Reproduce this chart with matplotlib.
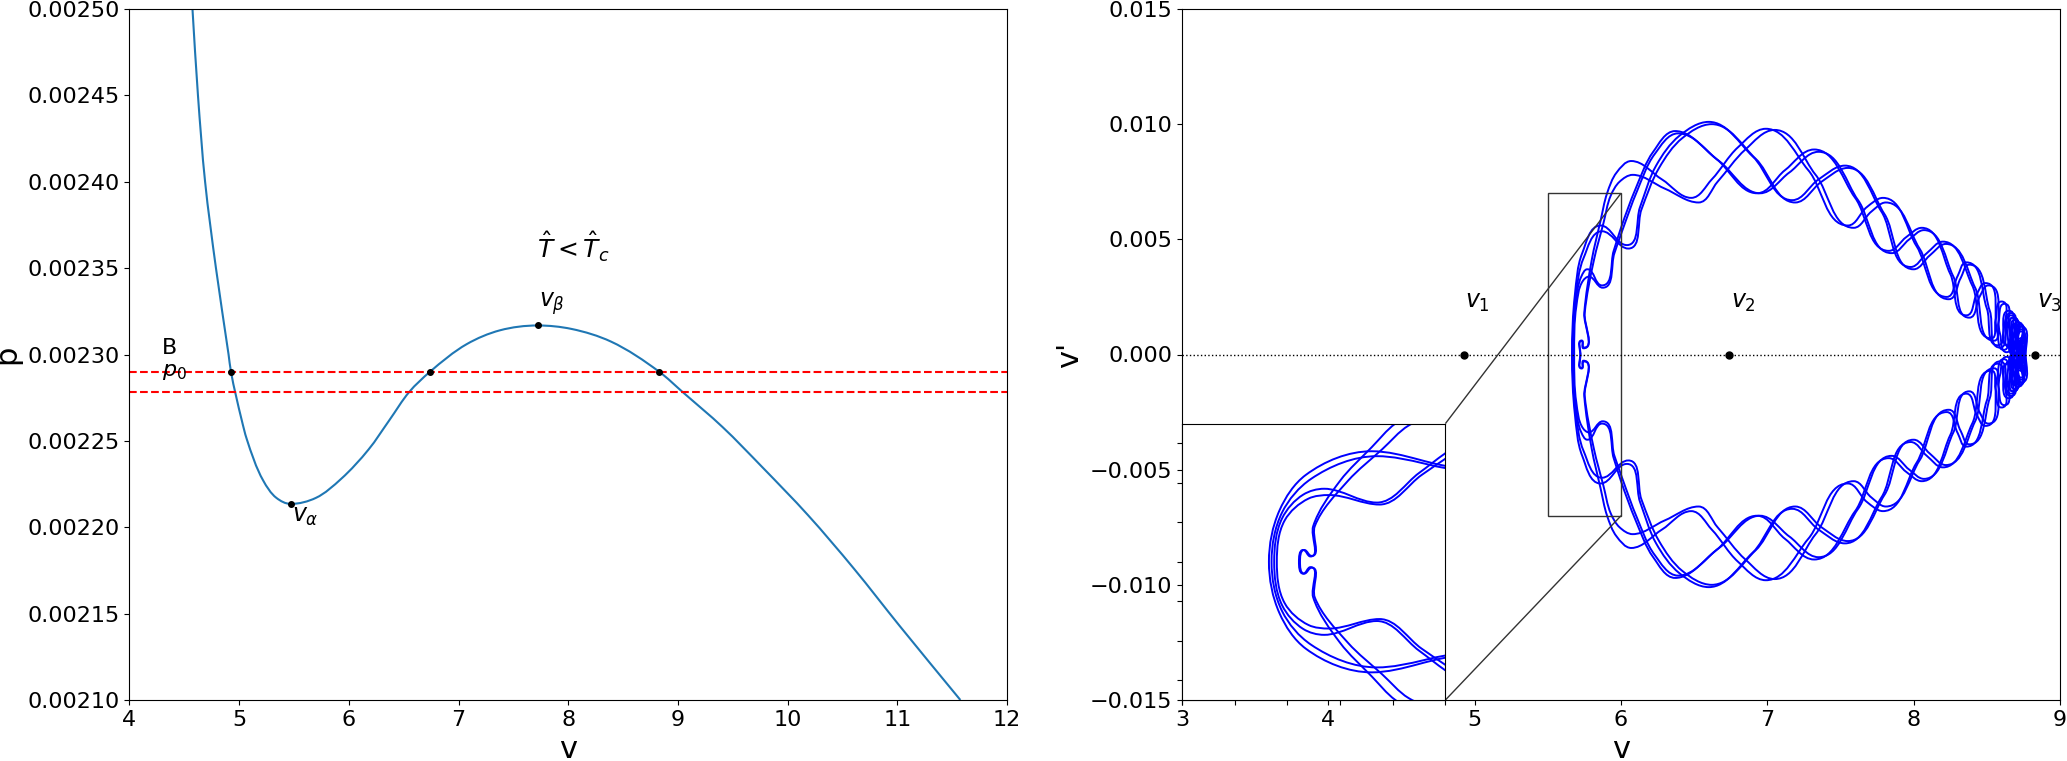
import numpy as np
import matplotlib
matplotlib.use('Agg')
import matplotlib.pyplot as plt
from matplotlib.path import Path
from matplotlib.patches import PathPatch
from matplotlib.ticker import FormatStrFormatter
from mpl_toolkits.axes_grid1.inset_locator import mark_inset

# isotherm p(v)
iso_v = [4.575, 4.625, 4.690, 4.789, 4.904, 4.926, 5.024, 5.070, 5.220, 5.340,
         5.470, 5.700, 5.930, 6.180, 6.370, 6.552, 6.740, 7.075, 7.378, 7.722,
         8.030, 8.389, 8.830, 9.048, 9.407, 9.766, 10.186, 10.605, 11.020, 11.575]
iso_p = [0.002500, 0.002450, 0.002400, 0.002350, 0.002300, 0.002290, 0.002262, 0.002251, 0.002227, 0.002217,
         0.0022135, 0.002217, 0.002228, 0.002245, 0.002262, 0.0022784, 0.002290, 0.002306, 0.002314, 0.0023168,
         0.0023148, 0.0023075, 0.002290, 0.002278, 0.002258, 0.002235, 0.002207, 0.002176, 0.002143, 0.002100]

p0 = 0.00229
p_low = 0.0022784
roots_v = [4.926, 6.74, 8.83]          # v1, v2, v3
v_alpha, p_alpha = 5.47, 0.0022135
v_beta, p_beta = 7.722, 0.0023168

# phase portrait strands (upper half, left tip -> right tip); the lower half mirrors it
a1_v = [5.665, 5.685, 5.735, 5.86, 6.04, 6.13, 6.24, 6.40, 6.60, 6.90, 7.17, 7.35, 7.53, 7.78, 7.98,
        8.09, 8.20, 8.40, 8.53, 8.56, 8.60, 8.645, 8.68, 8.705, 8.728, 8.748]
a1_dv = [0.0, 0.0026, 0.0044, 0.0056, 0.00475, 0.0064, 0.0082, 0.0095, 0.0101, 0.0086, 0.0067, 0.0076, 0.0082, 0.0062, 0.0038,
         0.0044, 0.0049, 0.0030, 0.0007, 0.0015, 0.0023, 0.0004, 0.0016, -0.0005, 0.0011, 0.0]
a2_v = [5.670, 5.69, 5.745, 5.87, 6.05, 6.14, 6.26, 6.42, 6.62, 6.92, 7.19, 7.37, 7.55, 7.80, 8.00,
        8.11, 8.22, 8.42, 8.55, 8.58, 8.62, 8.66, 8.69, 8.713, 8.735, 8.755]
a2_dv = [0.0, 0.0025, 0.0042, 0.00535, 0.0046, 0.0063, 0.0081, 0.0094, 0.0100, 0.0085, 0.0066, 0.0075, 0.0081, 0.0061, 0.0037,
         0.0043, 0.0048, 0.0029, 0.0006, 0.0014, 0.0022, 0.0003, 0.0015, -0.0006, 0.0010, 0.0]
b1_v = [5.722, 5.730, 5.744, 5.749, 5.80, 5.86, 5.905, 5.97, 6.07, 6.28, 6.48, 6.62, 6.80, 6.99, 7.28, 7.55, 7.68,
        7.79, 8.02, 8.226, 8.30, 8.36, 8.50, 8.575, 8.65, 8.685, 8.712, 8.735, 8.752]
b1_dv = [0.0, 0.0006, 0.00027, 0.0018, 0.0041, 0.0058, 0.0070, 0.0079, 0.0084, 0.0076, 0.0068, 0.0076, 0.0090, 0.0098, 0.0080, 0.0056, 0.0064,
         0.0068, 0.0047, 0.0025, 0.0034, 0.0040, 0.0020, 0.0004, 0.0019, 0.0000, 0.0014, -0.0007, 0.0]
b2_v = [5.724, 5.732, 5.746, 5.752, 5.815, 5.88, 5.93, 5.99, 6.08, 6.30, 6.53, 6.66, 6.85, 7.05, 7.33, 7.59, 7.71,
        7.81, 8.04, 8.24, 8.32, 8.38, 8.52, 8.59, 8.665, 8.70, 8.725, 8.745, 8.76]
b2_dv = [0.0, 0.0006, 0.0003, 0.0018, 0.0041, 0.0057, 0.0069, 0.0075, 0.0078, 0.0072, 0.0066, 0.0075, 0.0089, 0.00975, 0.0078, 0.0055, 0.0062,
         0.0066, 0.0046, 0.0024, 0.0033, 0.0039, 0.0019, 0.0003, 0.0018, -0.0001, 0.0013, -0.0006, 0.0]
c1_v = [5.675, 5.69, 5.73, 5.77, 5.87, 5.95, 6.00, 6.10, 6.22, 6.37, 6.65, 6.93, 7.12, 7.32, 7.60, 7.83,
        7.95, 8.055, 8.25, 8.36, 8.43, 8.49, 8.57, 8.615, 8.665, 8.70, 8.725, 8.745, 8.762]
c1_dv = [0.0, 0.0022, 0.0034, 0.0037, 0.0030, 0.0045, 0.0055, 0.0072, 0.0088, 0.0097, 0.0085, 0.0070, 0.0080, 0.0089, 0.0068, 0.0045,
         0.0051, 0.0055, 0.0035, 0.0017, 0.0026, 0.0031, 0.0010, 0.0002, 0.0017, -0.0004, 0.0013, -0.0005, 0.0]
c2_v = [5.680, 5.695, 5.74, 5.78, 5.875, 5.955, 6.01, 6.11, 6.23, 6.39, 6.67, 6.95, 7.15, 7.35, 7.62, 7.85,
        7.97, 8.07, 8.27, 8.38, 8.45, 8.51, 8.59, 8.635, 8.68, 8.715, 8.738, 8.765]
c2_dv = [0.0, 0.0021, 0.0032, 0.00338, 0.0029, 0.0044, 0.0054, 0.0071, 0.0087, 0.0096, 0.0084, 0.0070, 0.0079, 0.0088, 0.0067, 0.0044,
         0.0050, 0.0054, 0.0034, 0.0016, 0.0025, 0.0030, 0.0009, 0.0001, 0.0016, -0.0005, 0.0012, 0.0]
strands = [(a1_v, a1_dv), (a2_v, a2_dv), (b1_v, b1_dv), (b2_v, b2_dv), (c1_v, c1_dv), (c2_v, c2_dv)]


def smooth_path(ax, xs, ys, closed=False):
    # bezier through the read points (worked out in the axes' pixel space), flat at local extrema
    tr = ax.transData
    pts = tr.transform(np.column_stack([xs, ys]))
    n = len(pts)
    if closed:
        prev = np.roll(pts, 1, axis=0)
        nxt = np.roll(pts, -1, axis=0)
    else:
        prev = np.vstack([2 * pts[0] - pts[1], pts[:-1]])
        nxt = np.vstack([pts[1:], 2 * pts[-1] - pts[-2]])
    d1 = pts - prev
    d2 = nxt - pts
    l1 = np.hypot(d1[:, 0], d1[:, 1])[:, None] + 1e-9
    l2 = np.hypot(d2[:, 0], d2[:, 1])[:, None] + 1e-9
    tan = d1 / l1 + d2 / l2
    for k in (0, 1):
        tan[d1[:, k] * d2[:, k] < 0, k] = 0
    tan /= np.hypot(tan[:, 0], tan[:, 1])[:, None] + 1e-9
    verts = [pts[0]]
    codes = [Path.MOVETO]
    m = n if closed else n - 1
    for i in range(m):
        j = (i + 1) % n
        L = np.hypot(*(pts[j] - pts[i]))
        verts += [pts[i] + tan[i] * L / 3, pts[j] - tan[j] * L / 3, pts[j]]
        codes += [Path.CURVE4] * 3
    return Path(tr.inverted().transform(np.array(verts)), codes)


def mirrored_loop(vs, dvs):
    v = list(vs) + list(vs[-2:0:-1])
    d = list(dvs) + [-x for x in dvs[-2:0:-1]]
    return v, d


W, H = 2067, 761
fig = plt.figure(figsize=(W / 100, H / 100), dpi=100)
ax1 = fig.add_axes([129.4 / W, 61 / H, 877.6 / W, 691 / H])
ax2 = fig.add_axes([1182 / W, 61 / H, 878 / W, 691 / H])

# ---- left: isotherm
ax1.set_xlim(4, 12)
ax1.set_ylim(0.0021, 0.0025)
ax1.add_patch(PathPatch(smooth_path(ax1, iso_v, iso_p), fill=False, ec='#1f77b4', lw=1.5))
ax1.axhline(p0, color='red', ls='--', lw=1.5)
ax1.axhline(p_low, color='red', ls='--', lw=1.5)
ax1.plot(roots_v + [v_alpha, v_beta], [p0] * 3 + [p_alpha, p_beta], 'ko', ms=4)
ax1.text(4.3, 0.002304, 'B', fontsize=16, va='center', ha='left')
ax1.text(4.3, 0.00229, '$p_0$', fontsize=16, va='center', ha='left')
ax1.text(5.485, 0.0022067, r'$v_\alpha$', fontsize=17, va='center', ha='left')
ax1.text(7.73, 0.0023295, r'$v_\beta$', fontsize=17, va='center', ha='left')
ax1.text(7.72, 0.0023625, r'$\hat{T}<\hat{T}_c$', fontsize=18, va='center', ha='left')
ax1.set_xticks(range(4, 13))
ax1.set_yticks(np.arange(0.0021, 0.00251, 0.00005))
ax1.yaxis.set_major_formatter(FormatStrFormatter('%.5f'))
ax1.tick_params(labelsize=16)
ax1.set_xlabel('v', fontsize=22)
ax1.set_ylabel('p', fontsize=22)

# ---- right: phase portrait with zoomed inset
ax2.set_xlim(3, 9)
ax2.set_ylim(-0.015, 0.015)
axins = ax2.inset_axes([0, 0, 0.3, 0.4])
axins.set_xlim(5.5, 6.0)
axins.set_ylim(-0.007, 0.007)
for vs, dvs in strands:
    lv, ld = mirrored_loop(vs, dvs)
    ax2.add_patch(PathPatch(smooth_path(ax2, lv, ld, closed=True), fill=False, ec='blue', lw=1.4))
    axins.add_patch(PathPatch(smooth_path(axins, lv, ld, closed=True), fill=False, ec='blue', lw=1.4))

ax2.axhline(0, color='k', ls=':', lw=1)
ax2.plot(roots_v, [0, 0, 0], 'ko', ms=5)
for v, lab in zip(roots_v, ['$v_1$', '$v_2$', '$v_3$']):
    ax2.text(v + 0.01, 0.00228, lab, fontsize=17, va='center', ha='left')
ax2.set_xticks(range(3, 10))
ax2.set_yticks([-0.015, -0.010, -0.005, 0.0, 0.005, 0.010, 0.015])
ax2.tick_params(labelsize=16)
ax2.set_xlabel('v', fontsize=22)
ax2.set_ylabel("v'", fontsize=22)

axins.tick_params(labelleft=False, labelbottom=False)
mark_inset(ax2, axins, loc1=1, loc2=4, fc='none', ec='0.2', lw=1)

fig.savefig('out.png', dpi=100)
